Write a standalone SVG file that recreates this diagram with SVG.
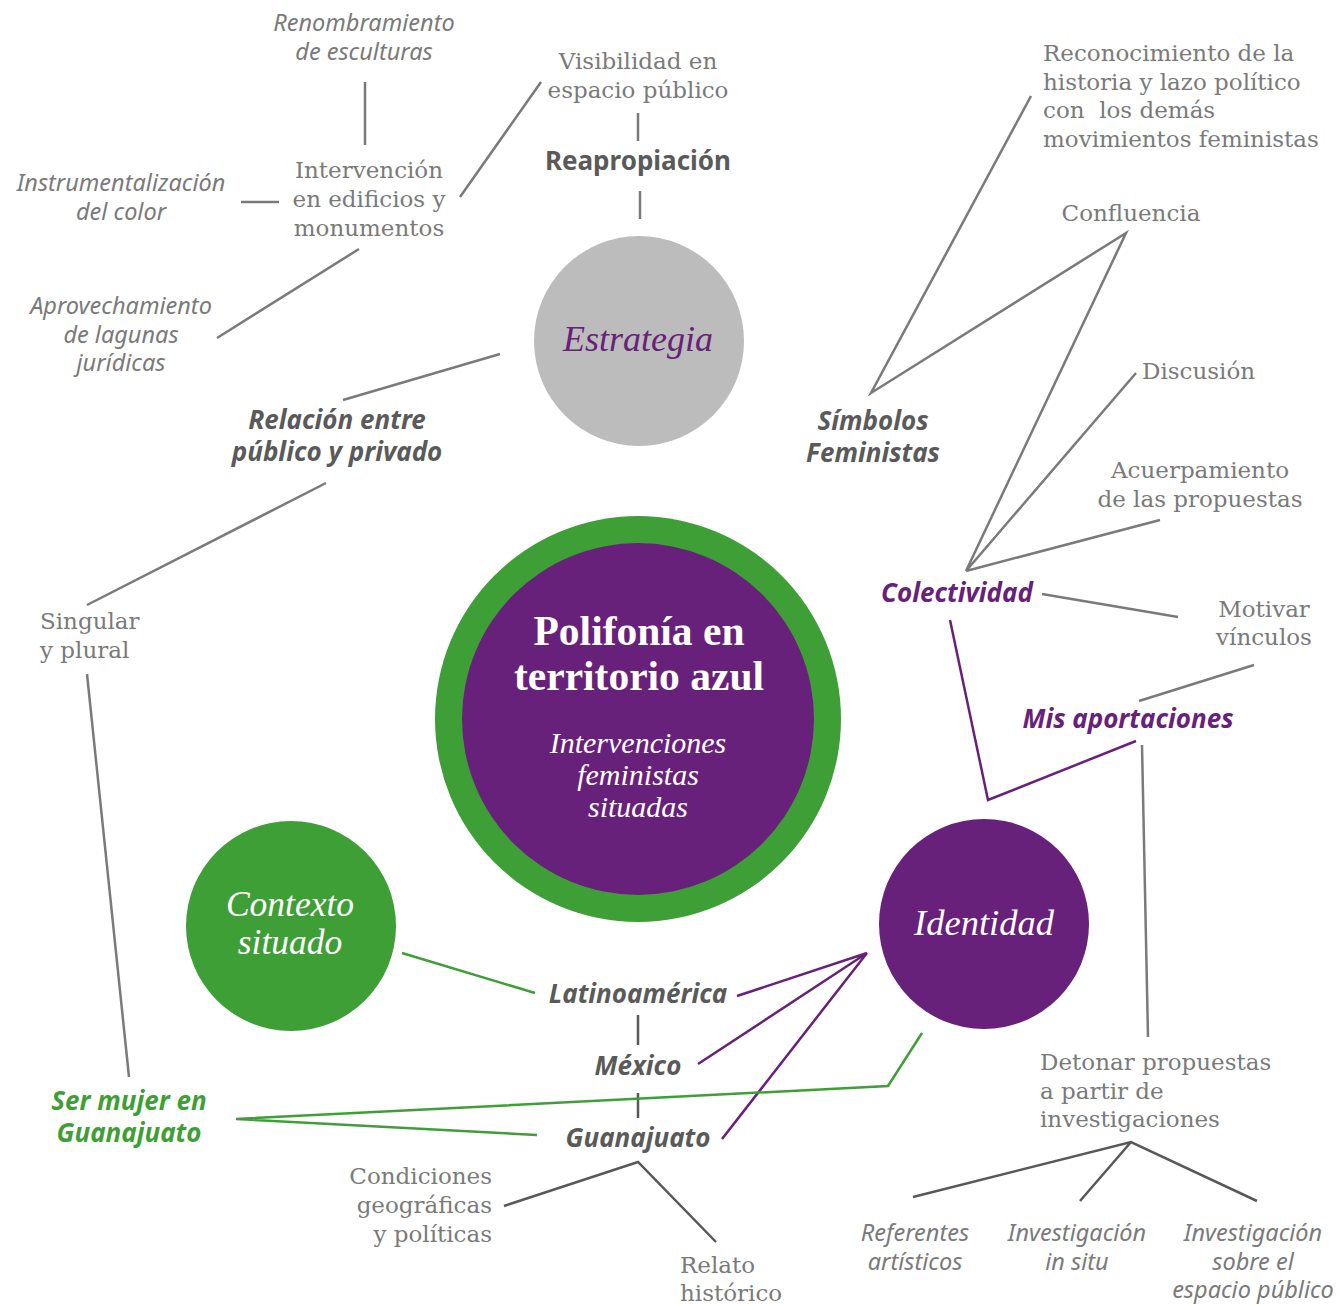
<svg xmlns="http://www.w3.org/2000/svg" width="1340" height="1305" viewBox="0 0 1340 1305">
<style>
.reg{font-family:"DejaVu Serif",serif;font-size:23px;fill:#7a7a7a}
.it{font-family:"Noto Sans",sans-serif;font-style:italic;font-size:23.5px;fill:#7a7a7a}
.bi{font-family:"Noto Sans",sans-serif;font-style:italic;font-weight:bold;font-size:26px;fill:#5a5a5a}
.b{font-family:"Noto Sans",sans-serif;font-weight:bold;font-size:26px;fill:#5a5a5a}
.pu{fill:#68217a}
.gr{fill:#3f9f37}
.m{text-anchor:middle}
.e{text-anchor:end}
.ln{fill:none;stroke:#7a7a7a;stroke-width:2.5}
.lnd{fill:none;stroke:#585858;stroke-width:2.5}
.lp{fill:none;stroke:#68217a;stroke-width:2.5}
.lg{fill:none;stroke:#3f9f37;stroke-width:2.5}
.cw{font-family:"Liberation Serif",serif;font-style:italic;fill:#fff}
</style>
<rect width="1340" height="1305" fill="#fff"/>
<g id="connectors">
<path class="ln" d="M365 82V145M241 202H279M359 249L217 338M460 197L541 82M638 113V141M640 191V219M500 354L343 400M326 483L87 605M87 674L129 1077"/>
<path class="ln" d="M1031 96L871 393L1126 233L966 571L1136 373M966 571L1160 520M1042 594L1178 617M1254 665L1139 701M1142 745L1148 1037"/>
<path class="lnd" d="M638 1015V1045M638 1093V1118M504 1206L638 1162L716 1242M913 1197L1131 1142L1257 1201M1131 1142L1080 1201"/>
<path class="lp" d="M950 620L988 800L1136 741M867 953L737 996M867 953L698 1064M867 953L722 1139"/>
<path class="lg" d="M402 953L535 993M922 1033L888 1086L236 1119L537 1135"/>
</g>
<g id="centro">
<circle cx="638" cy="719" r="203" fill="#3f9f37"/>
<circle cx="638" cy="719" r="176" fill="#68217a"/>
<text class="m" x="639" y="645" font-family="Liberation Serif,serif" font-weight="bold" font-size="41.5" fill="#fff">Polifonía en</text>
<text class="m" x="639" y="690" font-family="Liberation Serif,serif" font-weight="bold" font-size="41.5" fill="#fff">territorio azul</text>
<text class="m cw" x="638" y="753" font-size="30">Intervenciones</text>
<text class="m cw" x="638" y="785" font-size="30">feministas</text>
<text class="m cw" x="638" y="817" font-size="30">situadas</text>
</g>
<g id="estrategia">
<circle cx="639" cy="341" r="105" fill="#bcbcbc"/>
<text class="m" x="638" y="351" font-family="Liberation Serif,serif" font-style="italic" font-size="36" fill="#68217a">Estrategia</text>
</g>
<g id="contexto">
<circle cx="291" cy="926" r="105" fill="#3f9f37"/>
<text class="m cw" x="290" y="916" font-size="35.5">Contexto</text>
<text class="m cw" x="290" y="954" font-size="35.5">situado</text>
</g>
<g id="identidad">
<circle cx="984" cy="924" r="105" fill="#68217a"/>
<text class="m cw" x="984" y="935" font-size="36.5">Identidad</text>
</g>
<g id="renombramiento"><text class="it m" x="364" y="31">Renombramiento</text><text class="it m" x="364" y="60">de esculturas</text></g>
<g id="instrumentalizacion"><text class="it m" x="121" y="191">Instrumentalización</text><text class="it m" x="121" y="220">del color</text></g>
<g id="aprovechamiento"><text class="it m" x="121" y="314">Aprovechamiento</text><text class="it m" x="121" y="343">de lagunas</text><text class="it m" x="121" y="371">jurídicas</text></g>
<g id="intervencion"><text class="reg m" x="369" y="178">Intervención</text><text class="reg m" x="369" y="207">en edificios y</text><text class="reg m" x="369" y="236">monumentos</text></g>
<g id="visibilidad"><text class="reg m" x="638" y="69">Visibilidad en</text><text class="reg m" x="638" y="98">espacio público</text></g>
<g id="reapropiacion"><text class="b m" x="638" y="170">Reapropiación</text></g>
<g id="relacion"><text class="bi m" x="337" y="429">Relación entre</text><text class="bi m" x="337" y="461">público y privado</text></g>
<g id="singular"><text class="reg" x="40" y="629">Singular</text><text class="reg" x="40" y="658">y plural</text></g>
<g id="sermujer"><text class="bi gr m" x="129" y="1110">Ser mujer en</text><text class="bi gr m" x="129" y="1142">Guanajuato</text></g>
<g id="latinoamerica"><text class="bi m" x="638" y="1003">Latinoamérica</text></g>
<g id="mexico"><text class="bi m" x="638" y="1075">México</text></g>
<g id="guanajuato"><text class="bi m" x="638" y="1147">Guanajuato</text></g>
<g id="condiciones"><text class="reg e" x="492" y="1184">Condiciones</text><text class="reg e" x="492" y="1213">geográficas</text><text class="reg e" x="492" y="1242">y políticas</text></g>
<g id="relato"><text class="reg" x="680" y="1273">Relato</text><text class="reg" x="680" y="1301">histórico</text></g>
<g id="reconocimiento"><text class="reg" x="1043" y="61">Reconocimiento de la</text><text class="reg" x="1043" y="90">historia y lazo político</text><text class="reg" x="1043" y="118" xml:space="preserve">con  los demás</text><text class="reg" x="1043" y="147">movimientos feministas</text></g>
<g id="confluencia"><text class="reg m" x="1131" y="221">Confluencia</text></g>
<g id="simbolos"><text class="bi m" x="873" y="430">Símbolos</text><text class="bi m" x="873" y="462">Feministas</text></g>
<g id="discusion"><text class="reg" x="1142" y="379">Discusión</text></g>
<g id="acuerpamiento"><text class="reg m" x="1200" y="478">Acuerpamiento</text><text class="reg m" x="1200" y="507">de las propuestas</text></g>
<g id="colectividad"><text class="bi pu m" x="957" y="602">Colectividad</text></g>
<g id="motivar"><text class="reg m" x="1264" y="617">Motivar</text><text class="reg m" x="1264" y="645">vínculos</text></g>
<g id="aportaciones"><text class="bi pu m" x="1128" y="728" font-size="27">Mis aportaciones</text></g>
<g id="detonar"><text class="reg" x="1040" y="1070">Detonar propuestas</text><text class="reg" x="1040" y="1099">a partir de</text><text class="reg" x="1040" y="1127">investigaciones</text></g>
<g id="referentes"><text class="it m" x="915" y="1241">Referentes</text><text class="it m" x="915" y="1270">artísticos</text></g>
<g id="insitu"><text class="it m" x="1077" y="1241">Investigación</text><text class="it m" x="1077" y="1270">in situ</text></g>
<g id="espacio"><text class="it m" x="1253" y="1241">Investigación</text><text class="it m" x="1253" y="1270">sobre el</text><text class="it m" x="1253" y="1298">espacio público</text></g>
</svg>
